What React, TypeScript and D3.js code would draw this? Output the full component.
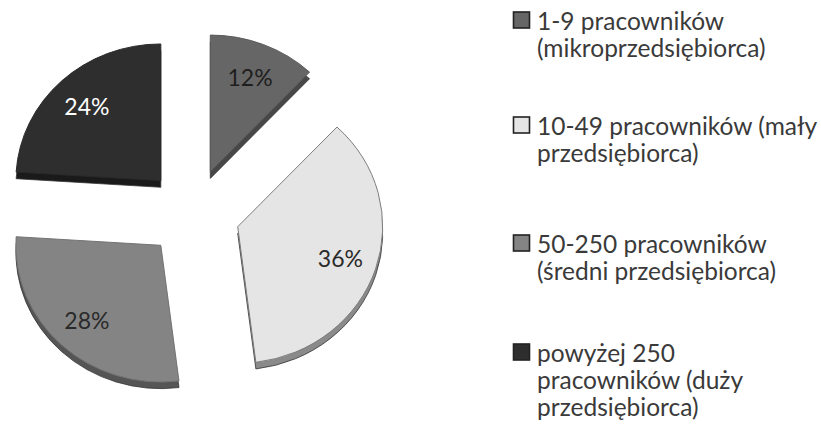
import React, { useEffect, useRef } from 'react';
import * as d3 from 'd3';

// share of firms by size class (%)
const categories = ['mikro', 'maly', 'sredni', 'duzy'];
const shares = [12, 36, 28, 24];
const labels = ['12%', '36%', '28%', '24%'];
const legendLines = [
  ['1-9 pracowników', '(mikroprzedsiębiorca)'],
  ['10-49 pracowników (mały', 'przedsiębiorca)'],
  ['50-250 pracowników', '(średni przedsiębiorca)'],
  ['powyżej 250', 'pracowników (duży', 'przedsiębiorca)'],
];
const faceColors = ['#666666', '#e5e5e5', '#848484', '#2e2e2e'];
const sideColors = ['#474747', '#8a8a8a', '#555555', '#1a1a1a'];
const textColors = ['#1e1e1e', '#2a2a2a', '#2a2a2a', '#ffffff'];
const legendY = [20, 125, 243, 352];

export default function App() {
  const ref = useRef<SVGSVGElement>(null);

  useEffect(() => {
    const svg = d3.select(ref.current);
    svg.selectAll('*').remove();

    const cx = 193, cy = 213, r = 145, explode = 47, depth = 7, tilt = 0.943;

    const pie = d3.pie<number>().sort(null).value((d) => d);
    const arcs = pie(shares);
    const arc = d3.arc<d3.PieArcDatum<number>>().innerRadius(0).outerRadius(r);
    const labelArc = d3.arc<d3.PieArcDatum<number>>().innerRadius(108).outerRadius(108);

    const shift = (d: d3.PieArcDatum<number>) => {
      const a = (d.startAngle + d.endAngle) / 2;
      return [Math.sin(a) * explode, -Math.cos(a) * explode];
    };

    const g = svg.append('g').attr('transform', `translate(${cx},${cy})`);

    const slice = g.selectAll('g.slice')
      .data(arcs)
      .enter().append('g')
      .attr('class', 'slice')
      .attr('transform', (d) => `scale(1,${tilt}) translate(${shift(d)})`);

    // side (depth) of the slice
    slice.append('path')
      .attr('d', arc)
      .attr('transform', `translate(0,${depth})`)
      .attr('fill', (d, i) => sideColors[i])
      .attr('stroke', '#333')
      .attr('stroke-width', 0.8);

    // top face
    slice.append('path')
      .attr('d', arc)
      .attr('fill', (d, i) => faceColors[i])
      .attr('stroke', (d, i) => (i === 1 ? '#7a7a7a' : d3.color(faceColors[i])!.darker(0.4).toString()))
      .attr('stroke-width', 1);

    g.selectAll('text.pct')
      .data(arcs)
      .enter().append('text')
      .attr('class', 'pct')
      .attr('transform', (d) => {
        const [sx, sy] = shift(d);
        const [lx, ly] = labelArc.centroid(d);
        return `translate(${sx + lx},${(sy + ly) * tilt})`;
      })
      .attr('text-anchor', 'middle')
      .attr('dominant-baseline', 'central')
      .attr('font-family', 'Lato, sans-serif')
      .attr('font-size', 23)
      .attr('fill', (d, i) => textColors[i])
      .text((d, i) => labels[i]);

    // legend
    const legend = svg.append('g').attr('class', 'legend');
    const item = legend.selectAll('g.item')
      .data(categories)
      .enter().append('g')
      .attr('class', 'item')
      .attr('transform', (d, i) => `translate(513,${legendY[i]})`);

    item.append('rect')
      .attr('x', 0.5)
      .attr('y', -8)
      .attr('width', 16)
      .attr('height', 16)
      .attr('fill', (d, i) => faceColors[i])
      .attr('stroke', '#222')
      .attr('stroke-width', 1.6);

    item.append('text')
      .attr('font-family', 'Lato, sans-serif')
      .attr('font-size', 24.5)
      .attr('fill', '#3a3a3a')
      .selectAll('tspan')
      .data((d, i) => legendLines[i])
      .enter().append('tspan')
      .attr('x', 24)
      .attr('y', (d, j) => j * 27)
      .attr('dominant-baseline', 'central')
      .text((d) => d);
  }, []);

  return (
    <div className='chart' style={{ position: 'absolute', left: 0, top: 0 }}>
      <svg ref={ref} width={821} height={428} style={{ display: 'block', background: '#fff' }} />
    </div>
  );
}
